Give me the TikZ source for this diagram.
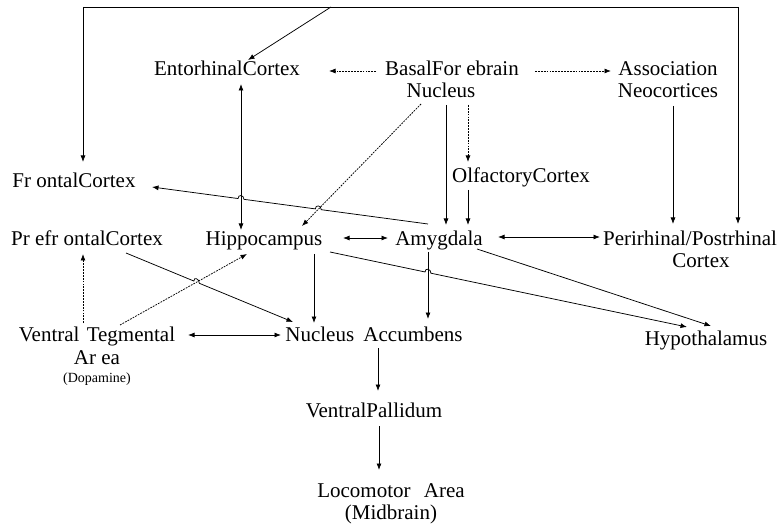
\documentclass[tikz,border=0pt]{standalone}
\usepackage{fontspec}
\setmainfont{Liberation Serif}
\usetikzlibrary{arrows.meta,calc,intersections}
\newcommand\twoline[2]{\begin{tabular}[t]{@{}c@{}}#1\\#2\end{tabular}}
\begin{document}
\begin{tikzpicture}[x=1pt,y=-1pt,
  lbl/.style={font=\fontsize{21}{22}\selectfont, inner sep=0pt, outer sep=0pt, anchor=base},
  con/.style={line width=0.75pt},
  arr/.style={con,-{Latex[length=6.5pt,width=5pt]}},
  darr/.style={con,{Latex[length=6.5pt,width=5pt]}-{Latex[length=6.5pt,width=5pt]}},
  dotarr/.style={line width=0.75pt,dash pattern=on 1.8pt off 1.1pt,-{Latex[length=6.5pt,width=5pt]}}]
\useasboundingbox[fill=white] (0,0) rectangle (780,524);

% nodes
\node[lbl] (ent) at (227,76) {EntorhinalCortex};
\node[lbl] (bas) at (441,76) {\twoline{\hspace{22pt}BasalFor ebrain}{Nucleus}};
\node[lbl] (asc) at (668,76) {\twoline{Association}{Neocortices}};
\node[lbl] (fro) at (74,188) {Fr ontalCortex};
\node[lbl] (olf) at (521,183) {OlfactoryCortex};
\node[lbl] (pre) at (87,246) {Pr efr ontalCortex};
\node[lbl] (hip) at (264,245) {Hippocampus};
\node[lbl] (amy) at (439,245) {Amygdala};
\node[lbl] (per) at (690,245) {\twoline{Perirhinal/Postrhinal}{\hspace{22pt}Cortex}};
\node[lbl] (vta) at (97,341) {\begin{tabular}[t]{@{}c@{}}Ventral\hspace{2pt} Tegmental\\[2pt] Ar ea\\[-4pt] {\fontsize{14}{15}\selectfont (Dopamine)}\end{tabular}};
\node[lbl] (nac) at (374,341) {Nucleus\hspace{4pt} Accumbens};
\node[lbl] (hyp) at (706,345) {Hypothalamus};
\node[lbl] (vp) at (374,417) {VentralPallidum};
\node[lbl] (loc) at (391,497) {\twoline{Locomotor\hspace{8pt} Area}{(Midbrain)}};

% outer frame
\coordinate (tl) at (83,7);
\coordinate (tr) at (738,7);
\coordinate (tm) at (331,7);
\draw[con] (tl) -- (tr);
\draw[arr] (tm) -- ([shift={(21,-16)}]ent.base);
\draw[arr] (tl) -- ([shift={(9,-26)}]fro.base);
\draw[arr] (tr) -- ([shift={(48,-21)}]per.base);

% basal forebrain
\draw[dotarr] ([shift={(-65,-5)}]bas.base) -- ([shift={(102,-5)}]ent.base);
\draw[dotarr] ([shift={(94,-5)}]bas.base) -- ([shift={(-57,-5)}]asc.base);
\draw[dotarr, name path=l5] ([shift={(-20,28)}]bas.base) -- ([shift={(38,-19)}]hip.base);
\draw[arr] ([shift={(5,29)}]bas.base) -- ([shift={(7,-20)}]amy.base);
\draw[dotarr] ([shift={(27,29)}]bas.base) -- ([shift={(-53,-21)}]olf.base);
\draw[arr] ([shift={(-53,7)}]olf.base) -- ([shift={(29,-20)}]amy.base);
\draw[arr] ([shift={(5,30)}]asc.base) -- ([shift={(-17,-21)}]per.base);

% entorhinal - hippocampus
\draw[darr, name path=l4] ([shift={(14,8)}]ent.base) -- ([shift={(-23,-15)}]hip.base);

% amygdala -> frontal with hops
\coordinate (a10) at ([shift={(-11,-21)}]amy.base);
\coordinate (b10) at ([shift={(78,-1)}]fro.base);
\path[name path=l10] (a10) -- (b10);
\path[name intersections={of=l10 and l4,by=h1}];
\path[name intersections={of=l10 and l5,by=h2}];
\draw[arr] (a10) -- ($(h2)!3pt!(a10)$)
  .. controls ($(h2)!3pt!(a10)+(0,-4.5)$) and ($(h2)!3pt!(b10)+(0,-4.5)$) .. ($(h2)!3pt!(b10)$)
  -- ($(h1)!3pt!(a10)$)
  .. controls ($(h1)!3pt!(a10)+(0,-4.5)$) and ($(h1)!3pt!(b10)+(0,-4.5)$) .. ($(h1)!3pt!(b10)$)
  -- (b10);

% middle row
\draw[darr] ([shift={(79,-7)}]hip.base) -- ([shift={(-51,-7)}]amy.base);
\draw[darr] ([shift={(59,-8)}]amy.base) -- ([shift={(-90,-8)}]per.base);

% VTA
\draw[dotarr] ([shift={(-14,-18)}]vta.base) -- ([shift={(-4,8)}]pre.base);
\draw[dotarr, name path=l15] ([shift={(23,-16)}]vta.base) -- ([shift={(-17,9)}]hip.base);
\draw[darr] ([shift={(91,-6)}]vta.base) -- ([shift={(-93,-6)}]nac.base);

% prefrontal -> nucleus accumbens with hop
\coordinate (a13) at ([shift={(39,7)}]pre.base);
\coordinate (b13) at ([shift={(-81,-19)}]nac.base);
\path[name path=l13] (a13) -- (b13);
\path[name intersections={of=l13 and l15,by=h3}];
\draw[arr] (a13) -- ($(h3)!3pt!(a13)$)
  .. controls ($(h3)!3pt!(a13)+(0,-4.5)$) and ($(h3)!3pt!(b13)+(0,-4.5)$) .. ($(h3)!3pt!(b13)$)
  -- (b13);

% hippocampus / amygdala downward
\draw[arr] ([shift={(50,9)}]hip.base) -- ([shift={(-60,-18)}]nac.base);
\draw[arr, name path=l18] ([shift={(-11,7)}]amy.base) -- ([shift={(54,-22)}]nac.base);
\coordinate (a17) at ([shift={(66,7)}]hip.base);
\coordinate (b17) at ([shift={(-19,-18)}]hyp.base);
\path[name path=l17] (a17) -- (b17);
\path[name intersections={of=l17 and l18,by=h4}];
\draw[arr] (a17) -- ($(h4)!3pt!(a17)$)
  .. controls ($(h4)!3pt!(a17)+(0,-4.5)$) and ($(h4)!3pt!(b17)+(0,-4.5)$) .. ($(h4)!3pt!(b17)$)
  -- (b17);
\draw[arr] ([shift={(38,4)}]amy.base) -- ([shift={(5,-19)}]hyp.base);

% output chain
\draw[arr] ([shift={(4,7)}]nac.base) -- ([shift={(4,-26)}]vp.base);
\draw[arr] ([shift={(5,9)}]vp.base) -- ([shift={(-12,-27)}]loc.base);
\end{tikzpicture}
\end{document}
